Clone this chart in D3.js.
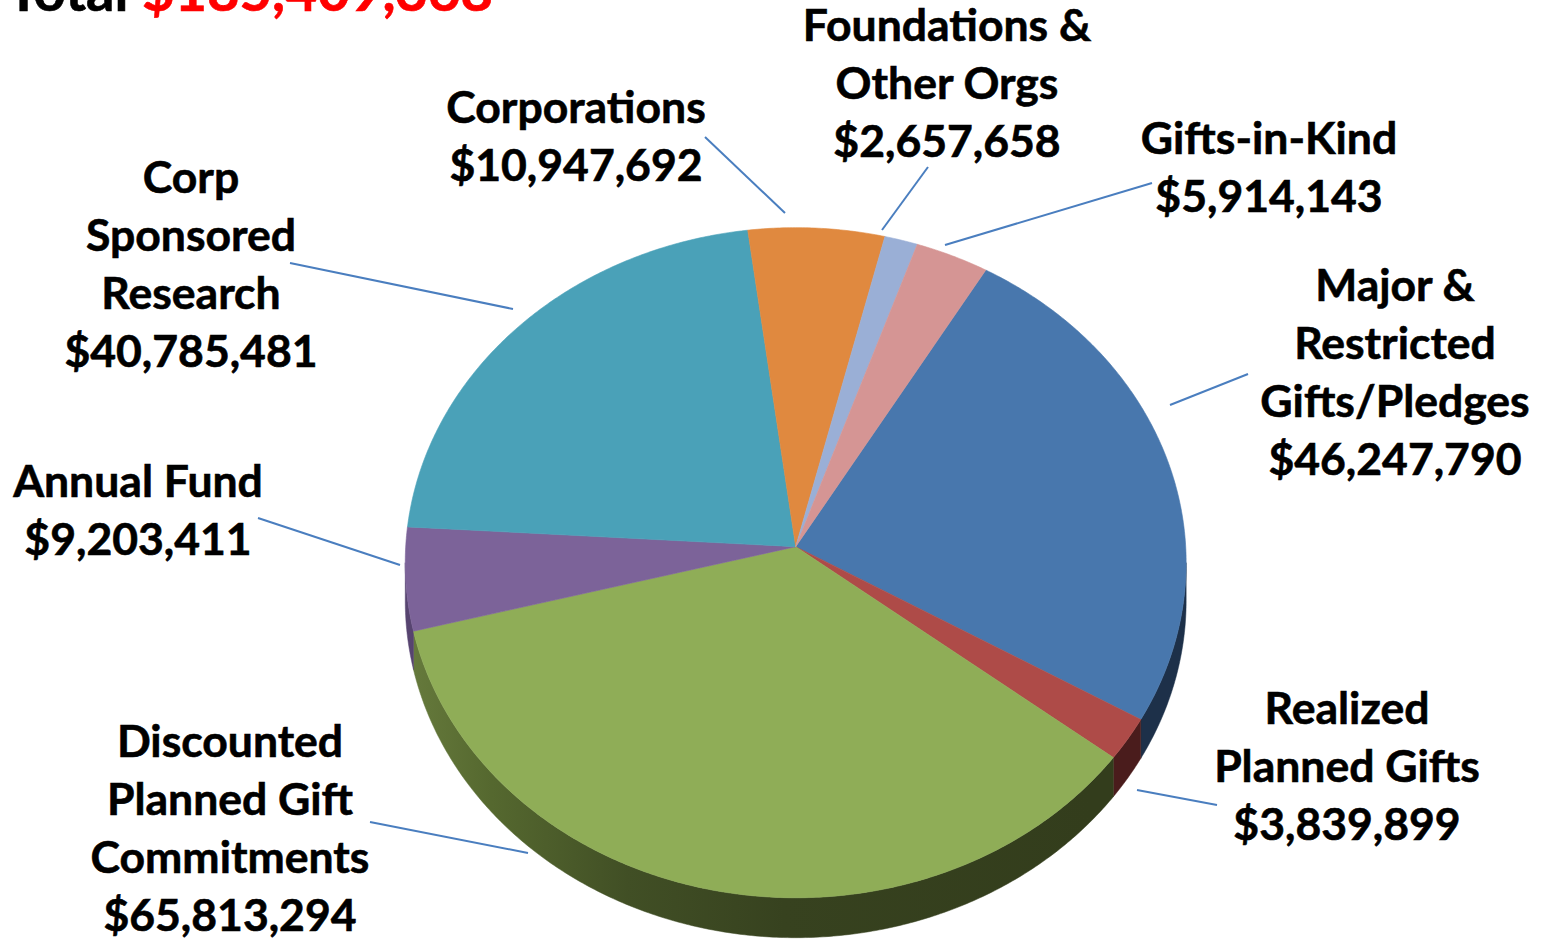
<!DOCTYPE html>
<html><head><meta charset="utf-8">
<script src="https://cdn.jsdelivr.net/npm/d3@7"></script>
<style>html,body{margin:0;padding:0;background:#fff;overflow:hidden}</style>
</head><body><svg id="chart" width="1544" height="939"></svg>
<script>
// ---------- DATA ----------
const categories = ["Major & Restricted Gifts/Pledges","Realized Planned Gifts","Discounted Planned Gift Commitments","Annual Fund","Corp Sponsored Research","Corporations","Foundations & Other Orgs","Gifts-in-Kind"];
const values = [46247790, 3839899, 65813294, 9203411, 40785481, 10947692, 2657658, 5914143];
const titleLabel = "Total ";

// ---------- STYLE / LAYOUT ----------
const topColors  = ["#4877ad","#ae4b48","#8fad57","#7c6399","#4aa1b8","#e0893f","#9aafd6","#d59594"];
const sideColors = ["#1d3049","#4a1c1c","url(#greenSide)","#574470","#2a5f6d","#8a4c1f","#5a6680","#7e5150"];
const labelLines = [["Major &","Restricted","Gifts/Pledges"],["Realized","Planned Gifts"],["Discounted","Planned Gift","Commitments"],["Annual Fund"],["Corp","Sponsored","Research"],["Corporations"],["Foundations &","Other Orgs"],["Gifts-in-Kind"]];
const labelPos = [[1395,301],[1347,724],[230,757],[138,497],[191,193],[576,123],[947,41],[1269,154]];
const leaderPos = [[[1248,374],[1170,405]],[[1217,805],[1137,790]],[[370,822],[528,853]],[[258,518],[400,565]],[[290,263],[513,309]],[[705,137],[785,213]],[[928,167],[882,230]],[[1152,183],[945,245]]];

const P = {cx:795.7, cy:546.7, sx:390, sy:334.3, persp:0.0478, depth:38, rot:30.5};
const FONT = "Lato, 'Open Sans', sans-serif";
const LINE = 58;

const svg = d3.select("#chart");
const defs = svg.append("defs");
const g1 = defs.append("linearGradient").attr("id","greenSide").attr("gradientUnits","userSpaceOnUse")
  .attr("x1",410).attr("y1",0).attr("x2",1090).attr("y2",0);
[[0,"#667a3c"],[0.12,"#55682f"],[0.32,"#414f25"],[0.55,"#37421f"],[1,"#333d1c"]].forEach(s=>g1.append("stop").attr("offset",s[0]).attr("stop-color",s[1]));

function proj(theta, r, z){
  const u = r*Math.sin(theta), v = r*Math.cos(theta);
  const k = 1/(1 + P.persp*v);
  return [P.cx + P.sx*u*k, P.cy - P.sy*v*k + z*P.depth*k];
}
function arcPts(a0, a1, z){
  const n = Math.max(2, Math.ceil(Math.abs(a1-a0)/(Math.PI/360)));
  return d3.range(n+1).map(i => proj(a0 + (a1-a0)*i/n, 1, z));
}

const rot = P.rot*Math.PI/180;
const arcs = d3.pie().sort(null).value(d=>d).startAngle(rot).endAngle(rot+2*Math.PI)(values);
const line = d3.line();

// visible outer wall range (silhouette)
const vis0 = Math.acos(-P.persp), vis1 = 2*Math.PI - Math.acos(-P.persp);

const walls = svg.append("g");
arcs.forEach((a,i)=>{
  const s = Math.max(a.startAngle, vis0), e = Math.min(a.endAngle, vis1);
  if (e <= s) return;
  const pts = arcPts(s, e, 0).concat(arcPts(e, s, 1));
  walls.append("path").attr("d", line(pts)+"Z").attr("fill", sideColors[i]).attr("stroke", sideColors[i]).attr("stroke-width",0.5);
});

const tops = svg.append("g");
arcs.forEach((a,i)=>{
  const pts = [proj(0,0,0)].concat(arcPts(a.startAngle, a.endAngle, 0));
  tops.append("path").attr("d", line(pts)+"Z").attr("fill", topColors[i]).attr("stroke", topColors[i]).attr("stroke-width",0.6);
});

// leader lines
svg.append("g").selectAll("line").data(leaderPos).join("line")
  .attr("x1",d=>d[0][0]).attr("y1",d=>d[0][1]).attr("x2",d=>d[1][0]).attr("y2",d=>d[1][1])
  .attr("stroke","#4a7ebf").attr("stroke-width",2);

// labels
const fmt = d3.format("$,");
const lab = svg.append("g").attr("font-family",FONT).attr("font-weight",700).attr("font-size",44.5)
  .attr("text-anchor","middle").attr("fill","#000").attr("stroke","#000").attr("stroke-width",0.6);
categories.forEach((c,i)=>{
  const lines = labelLines[i].concat([fmt(values[i])]);
  const t = lab.append("text").attr("x",labelPos[i][0]).attr("y",labelPos[i][1]);
  lines.forEach((l,j)=>t.append("tspan").attr("x",labelPos[i][0]).attr("dy", j===0?0:LINE).text(l));
});

// title
const total = d3.sum(values);
const tt = svg.append("text").attr("x",493).attr("y",11).attr("text-anchor","end")
  .attr("font-family",FONT).attr("font-weight",700).attr("font-size",56).attr("stroke-width",0.6);
tt.append("tspan").attr("fill","#000").attr("stroke","#000").text(titleLabel);
tt.append("tspan").attr("fill","#ff0000").attr("stroke","#ff0000").text(fmt(total));
</script></body></html>
